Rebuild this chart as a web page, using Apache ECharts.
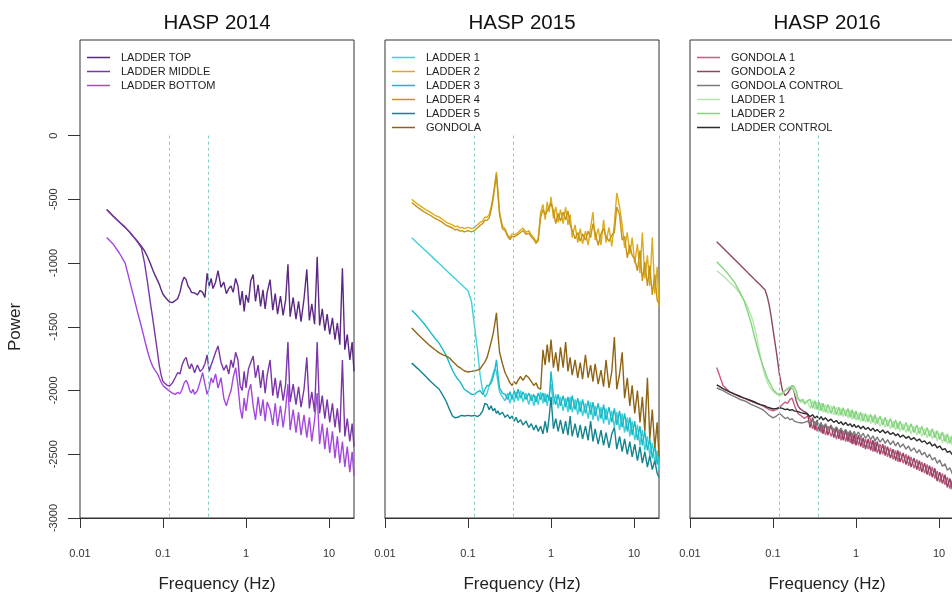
<!DOCTYPE html>
<html><head><meta charset="utf-8">
<script src="https://cdn.jsdelivr.net/npm/echarts@6/dist/echarts.min.js"></script>
<style>html,body{margin:0;padding:0;background:#fff}#c{width:952px;height:594px}</style>
</head><body><div id="c"></div>
<script>
// ---------- DATA ----------
const freq = [
 0.021,0.025,0.03,0.035,0.04,0.045,0.05,0.055,0.06,0.065,0.07,0.075,0.08,0.085,0.09,0.095,
 0.1,0.11,0.12,0.13,0.14,0.15,0.16,0.17,0.18,0.19,0.2,0.21,0.22,0.23,0.24,0.26,
 0.28,0.3,0.32,0.34,0.36,0.38,0.4,0.43,0.46,0.5,0.54,0.58,0.62,0.66,0.7,0.75,
 0.8,0.85,0.9,0.95,1.0,1.07,1.14,1.22,1.3,1.4,1.5,1.6,1.7,1.8,1.95,2.1,
 2.25,2.4,2.6,2.8,3.0,3.2,3.4,3.7,4.0,4.3,4.6,5.0,5.4,5.8,6.2,6.7,
 7.2,7.7,8.3,8.9,9.5,10.2,11.0,11.8,12.6,13.5,14.5,15.5,16.6,17.8,19.0,20.0];

// HASP 2014
const ladderTop14 = [
 -580,-630,-680,-720,-760,-800,-835,-870,-905,-950,-1000,-1050,-1095,-1130,-1165,-1210,
 -1245,-1280,-1305,-1310,-1295,-1280,-1230,-1150,-1110,-1130,-1180,-1200,-1230,-1245,-1235,-1250,
 -1215,-1230,-1270,-1080,-1180,-1120,-1200,-1150,-1060,-1190,-1150,-1240,-1200,-1180,-1230,-1120,
 -1180,-1330,-1220,-1380,-1250,-1310,-1140,-1090,-1300,-1170,-1340,-1210,-1360,-1230,-1130,-1370,
 -1240,-1400,-1260,-1410,-1290,-1010,-1420,-1270,-1440,-1300,-1460,-1280,-1050,-1450,-1320,-1480,
 -950,-1490,-1360,-1530,-1400,-1560,-1430,-1600,-1470,-1640,-1040,-1680,-1560,-1760,-1620,-1850];
const ladderMiddle14 = [
 -580,-630,-680,-720,-760,-800,-840,-880,-1000,-1150,-1300,-1430,-1560,-1680,-1800,-1880,
 -1930,-1955,-1965,-1940,-1900,-1860,-1870,-1800,-1760,-1740,-1800,-1830,-1790,-1820,-1860,-1800,
 -1850,-1830,-1790,-1720,-1850,-1800,-1760,-1700,-1650,-1780,-1840,-1800,-1870,-1760,-1820,-1700,
 -1760,-1960,-2000,-1850,-1980,-1830,-1780,-1730,-1900,-1800,-1980,-1840,-2020,-1880,-1760,-2040,
 -1900,-2060,-1920,-2080,-1950,-1620,-2090,-1950,-2110,-1970,-2130,-1990,-1740,-2140,-2010,-2170,
 -1620,-2180,-2040,-2220,-2070,-2250,-2100,-2290,-2140,-2330,-1760,-2360,-2220,-2400,-2260,-2440];
const ladderBottom14 = [
 -800,-850,-925,-1000,-1150,-1280,-1400,-1500,-1600,-1690,-1760,-1810,-1840,-1865,-1900,-1935,
 -1960,-1985,-2005,-2020,-2030,-2015,-2025,-1990,-1940,-1920,-1950,-2000,-2020,-1990,-2030,-2000,
 -1930,-1860,-1950,-2030,-1980,-1900,-1940,-1870,-1980,-1900,-2060,-2120,-2050,-2000,-1900,-1820,
 -1960,-2140,-2220,-2060,-2160,-2010,-1950,-2120,-2230,-2050,-2200,-2070,-2240,-2090,-2150,-2270,
 -2100,-2280,-2120,-2290,-2140,-1950,-2310,-2150,-2330,-2170,-2350,-2190,-2370,-2210,-2400,-2230,
 -2020,-2420,-2260,-2460,-2290,-2490,-2320,-2530,-2360,-2570,-2400,-2600,-2440,-2640,-2480,-2670];

// HASP 2015
const ladder1_15 = [
 -801,-848,-896,-937,-973,-1004,-1033,-1058,-1081,-1103,-1122,-1141,-1158,-1174,-1190,-1204,
 -1217,-1300,-1500,-1680,-1880,-2000,-2050,-2020,-1960,-1920,-1870,-1830,-1850,-1940,-2010,-2050,
 -2080,-2020,-2100,-2030,-2090,-2010,-2080,-2000,-2090,-2020,-2110,-2030,-2120,-2040,-2110,-2010,
 -2100,-2020,-2120,-2030,-1950,-2110,-2030,-2140,-2050,-2160,-2060,-2170,-2050,-2170,-2070,-2190,
 -2080,-2200,-2100,-2220,-2090,-2230,-2120,-2240,-2130,-2260,-2140,-2270,-2160,-2290,-2170,-2310,
 -2180,-2330,-2210,-2360,-2240,-2390,-2270,-2430,-2310,-2470,-2360,-2510,-2410,-2570,-2470,-2620];
const ladder2_15 = [
 -500,-540,-575,-600,-625,-640,-660,-680,-690,-700,-715,-710,-725,-720,-730,-725,
 -720,-730,-720,-700,-680,-670,-640,-640,-620,-560,-480,-380,-285,-450,-600,-710,
 -730,-780,-800,-770,-780,-770,-760,-740,-725,-760,-745,-780,-800,-830,-810,-600,
 -540,-660,-520,-600,-480,-650,-560,-680,-580,-690,-560,-700,-620,-800,-700,-840,
 -730,-850,-750,-860,-720,-600,-820,-730,-860,-660,-840,-720,-870,-690,-450,-560,
 -700,-880,-760,-930,-800,-1000,-850,-1080,-760,-1120,-940,-1180,-800,-1240,-1030,-1340];
const ladder3_15 = [
 -1370,-1420,-1480,-1540,-1590,-1630,-1680,-1730,-1790,-1840,-1880,-1910,-1930,-1960,-1990,-2000,
 -2010,-2030,-2030,-2010,-2000,-2030,-1990,-1960,-1960,-1940,-1900,-1840,-1760,-1880,-1980,-2020,
 -2030,-2070,-2010,-2070,-2000,-2060,-1990,-2060,-2010,-2070,-2020,-2080,-2030,-2090,-2020,-2070,
 -2020,-2090,-2030,-2080,-1850,-2040,-2110,-2030,-2120,-2040,-2130,-2050,-2150,-2040,-2150,-2060,
 -2170,-2070,-2180,-2080,-2190,-2090,-2200,-2100,-2220,-2110,-2230,-2130,-2250,-2140,-2270,-2160,
 -2290,-2180,-2320,-2210,-2350,-2240,-2390,-2280,-2430,-2320,-2470,-2380,-2530,-2430,-2580,-2520];
const ladder4_15 = [
 -525,-565,-600,-625,-650,-665,-685,-705,-715,-725,-740,-735,-750,-745,-755,-750,
 -745,-755,-745,-725,-705,-690,-665,-665,-645,-585,-505,-405,-305,-470,-620,-730,
 -745,-790,-815,-790,-795,-785,-775,-760,-745,-775,-765,-795,-815,-845,-825,-640,
 -580,-620,-590,-560,-530,-590,-690,-610,-670,-600,-660,-590,-700,-740,-810,-760,
 -830,-770,-820,-750,-800,-690,-760,-860,-770,-730,-790,-830,-780,-760,-560,-620,
 -820,-790,-960,-860,-940,-970,-1060,-900,-1140,-990,-1180,-1020,-1250,-1090,-1290,-1320];
const ladder5_15 = [
 -1785,-1830,-1880,-1925,-1960,-1990,-2040,-2090,-2150,-2200,-2215,-2210,-2200,-2195,-2200,-2190,
 -2195,-2200,-2195,-2205,-2190,-2160,-2100,-2110,-2150,-2120,-2160,-2140,-2180,-2160,-2190,-2170,
 -2210,-2190,-2220,-2200,-2240,-2210,-2250,-2230,-2270,-2240,-2290,-2260,-2310,-2270,-2320,-2280,
 -2340,-2240,-2330,-2210,-2050,-2300,-2220,-2320,-2230,-2340,-2240,-2350,-2200,-2360,-2260,-2370,
 -2270,-2380,-2280,-2390,-2240,-2400,-2300,-2420,-2310,-2430,-2330,-2450,-2340,-2290,-2460,-2360,
 -2480,-2380,-2500,-2400,-2520,-2420,-2550,-2440,-2570,-2480,-2600,-2510,-2620,-2550,-2650,-2680];
const gondola15 = [
 -1510,-1560,-1610,-1650,-1680,-1705,-1720,-1730,-1745,-1770,-1790,-1810,-1820,-1835,-1845,-1850,
 -1855,-1850,-1845,-1840,-1830,-1800,-1775,-1740,-1680,-1620,-1560,-1480,-1390,-1560,-1700,-1790,
 -1860,-1900,-1940,-1960,-1930,-1950,-1920,-1890,-1920,-1880,-1900,-1930,-1960,-1940,-1980,-1990,
 -1680,-1800,-1640,-1780,-1600,-1820,-1700,-1850,-1660,-1820,-1620,-1850,-1740,-1880,-1760,-1900,
 -1780,-1910,-1720,-1900,-1800,-1930,-1790,-1950,-1840,-1970,-1760,-1980,-1850,-1580,-1990,-1870,
 -1700,-2060,-1900,-2120,-1960,-2180,-2000,-2250,-2050,-2320,-1900,-2380,-2150,-2450,-2250,-2520];

// HASP 2016
const gondola1_16 = [
 -1820,-1960,-2010,-2030,-2050,-2060,-2075,-2085,-2095,-2105,-2110,-2120,-2130,-2140,-2150,-2155,
 -2160,-2150,-2130,-2110,-2090,-2100,-2070,-2060,-2110,-2150,-2180,-2170,-2200,-2190,-2220,-2200,
 -2220,-2300,-2240,-2320,-2260,-2330,-2270,-2350,-2280,-2360,-2300,-2380,-2310,-2390,-2320,-2400,
 -2330,-2410,-2340,-2420,-2350,-2430,-2360,-2450,-2380,-2460,-2390,-2480,-2400,-2490,-2420,-2500,
 -2430,-2520,-2450,-2540,-2470,-2560,-2480,-2570,-2500,-2590,-2520,-2610,-2540,-2630,-2560,-2650,
 -2580,-2670,-2600,-2690,-2630,-2720,-2650,-2740,-2680,-2770,-2700,-2800,-2730,-2820,-2760,-2850];
const gondola2_16 = [
 -832,-881,-933,-976,-1014,-1047,-1077,-1103,-1128,-1150,-1171,-1191,-1209,-1260,-1330,-1420,
 -1520,-1700,-1880,-2000,-2040,-2020,-1990,-1970,-2010,-2080,-2120,-2140,-2150,-2160,-2170,-2180,
 -2290,-2210,-2310,-2230,-2320,-2250,-2340,-2260,-2350,-2270,-2370,-2290,-2380,-2300,-2390,-2310,
 -2400,-2320,-2420,-2340,-2430,-2350,-2440,-2370,-2460,-2380,-2470,-2390,-2480,-2400,-2500,-2420,
 -2510,-2440,-2530,-2460,-2550,-2470,-2560,-2490,-2580,-2510,-2600,-2530,-2620,-2550,-2640,-2570,
 -2660,-2590,-2680,-2610,-2710,-2640,-2730,-2660,-2760,-2690,-2780,-2710,-2810,-2740,-2840,-2770];
const gondolaControl16 = [
 -1980,-2000,-2030,-2050,-2070,-2080,-2095,-2110,-2120,-2130,-2140,-2150,-2165,-2180,-2195,-2205,
 -2215,-2200,-2180,-2200,-2220,-2210,-2230,-2220,-2240,-2230,-2250,-2240,-2255,-2245,-2250,-2240,
 -2260,-2230,-2270,-2245,-2280,-2255,-2290,-2265,-2300,-2275,-2310,-2285,-2320,-2295,-2330,-2305,
 -2340,-2315,-2350,-2320,-2355,-2325,-2365,-2335,-2375,-2345,-2385,-2355,-2395,-2365,-2405,-2375,
 -2415,-2385,-2425,-2395,-2435,-2405,-2445,-2420,-2460,-2435,-2475,-2450,-2490,-2465,-2505,-2485,
 -2525,-2500,-2545,-2525,-2570,-2545,-2595,-2575,-2625,-2605,-2655,-2640,-2690,-2675,-2725,-2715];
const ladder1_16 = [
 -1060,-1100,-1150,-1190,-1240,-1290,-1350,-1420,-1500,-1610,-1720,-1810,-1880,-1930,-1965,-1990,
 -2005,-2030,-2040,-2030,-2000,-1980,-1970,-1975,-2000,-2040,-2070,-2060,-2095,-2075,-2110,-2085,
 -2140,-2080,-2150,-2090,-2160,-2100,-2170,-2110,-2180,-2120,-2190,-2130,-2200,-2140,-2205,-2150,
 -2215,-2155,-2225,-2165,-2235,-2175,-2245,-2180,-2250,-2190,-2260,-2200,-2270,-2210,-2280,-2220,
 -2290,-2230,-2300,-2240,-2310,-2250,-2320,-2260,-2330,-2270,-2340,-2280,-2350,-2290,-2360,-2300,
 -2370,-2310,-2380,-2320,-2395,-2335,-2410,-2345,-2420,-2360,-2435,-2370,-2450,-2385,-2465,-2400];
const ladder2_16 = [
 -990,-1040,-1100,-1160,-1230,-1300,-1390,-1480,-1580,-1670,-1740,-1800,-1850,-1900,-1930,-1960,
 -1990,-2020,-2030,-2020,-2000,-1990,-1980,-1960,-1970,-2000,-2060,-2080,-2090,-2070,-2100,-2080,
 -2070,-2140,-2080,-2150,-2090,-2160,-2100,-2170,-2110,-2180,-2120,-2190,-2130,-2195,-2135,-2200,
 -2140,-2210,-2150,-2220,-2160,-2230,-2170,-2240,-2180,-2245,-2185,-2250,-2190,-2260,-2200,-2270,
 -2210,-2280,-2220,-2290,-2230,-2300,-2240,-2310,-2250,-2320,-2260,-2330,-2270,-2340,-2280,-2350,
 -2290,-2360,-2300,-2370,-2315,-2385,-2325,-2400,-2340,-2415,-2350,-2425,-2365,-2440,-2375,-2455];
const ladderControl16 = [
 -1955,-1985,-2010,-2030,-2045,-2060,-2070,-2080,-2090,-2100,-2110,-2115,-2120,-2130,-2135,-2140,
 -2145,-2140,-2135,-2140,-2150,-2145,-2155,-2150,-2160,-2155,-2165,-2160,-2175,-2170,-2180,-2185,
 -2205,-2190,-2215,-2200,-2225,-2205,-2230,-2215,-2240,-2225,-2250,-2235,-2260,-2245,-2270,-2250,
 -2275,-2260,-2285,-2265,-2290,-2275,-2300,-2280,-2305,-2290,-2315,-2295,-2320,-2305,-2330,-2310,
 -2335,-2320,-2345,-2330,-2355,-2340,-2365,-2350,-2375,-2360,-2385,-2370,-2395,-2380,-2405,-2395,
 -2420,-2405,-2435,-2420,-2450,-2435,-2465,-2455,-2485,-2475,-2505,-2500,-2530,-2525,-2555,-2555];

const panelTitles = ['HASP 2014', 'HASP 2015', 'HASP 2016'];
const xTicks = [0.01, 0.1, 1, 10];
const yTicks = [-3000, -2500, -2000, -1500, -1000, -500, 0];
const refLines = [0.12, 0.35];

// ---------- CONFIG ----------
const FONT = 'Liberation Sans, Arial, Helvetica, sans-serif';
const panels = [
  { left: 80, series: [
    ['LADDER TOP', ladderTop14, '#5b2883'],
    ['LADDER MIDDLE', ladderMiddle14, '#7a36a6'],
    ['LADDER BOTTOM', ladderBottom14, '#a447dc']]},
  { left: 385, series: [
    ['LADDER 1', ladder1_15, '#3fd0dc'],
    ['LADDER 2', ladder2_15, '#dcac1c'],
    ['LADDER 3', ladder3_15, '#1bb9c6'],
    ['LADDER 4', ladder4_15, '#c59316'],
    ['LADDER 5', ladder5_15, '#13848e'],
    ['GONDOLA', gondola15, '#8e6414']]},
  { left: 690, series: [
    ['GONDOLA 1', gondola1_16, '#cc5a84'],
    ['GONDOLA 2', gondola2_16, '#8c4765'],
    ['GONDOLA CONTROL', gondolaControl16, '#7b7b7b'],
    ['LADDER 1', ladder1_16, '#b4e6ac'],
    ['LADDER 2', ladder2_16, '#84d47e'],
    ['LADDER CONTROL', ladderControl16, '#2c2c2c']]}
];
const W = 274, TOP = 40, H = 478;

const grid = [], xAxis = [], yAxis = [], series = [], legend = [], graphic = [];
panels.forEach((p, pi) => {
  grid.push({ left: p.left, top: TOP, width: W, height: H, show: true, outerBoundsMode: 'none',
    borderColor: '#333', borderWidth: 1, backgroundColor: 'transparent', containLabel: false });
  xAxis.push({ type: 'log', logBase: 10, gridIndex: pi, min: 0.01, max: 20,
    axisLine: { show: true, onZero: false, lineStyle: { color: '#333', width: 1 } },
    axisTick: { show: true, customValues: xTicks, length: 10, lineStyle: { color: '#333' } },
    axisLabel: { show: true, customValues: xTicks, margin: 30, fontSize: 11, color: '#333', fontFamily: FONT,
      formatter: v => String(+(+v).toPrecision(3)) },
    splitLine: { show: false }, minorTick: { show: false },
    name: 'Frequency (Hz)', nameLocation: 'middle', nameGap: 58,
    nameTextStyle: { fontSize: 17, color: '#222', fontFamily: FONT } });
  yAxis.push({ type: 'value', gridIndex: pi, min: -3000, max: 750, show: pi === 0,
    axisLine: { show: false },
    axisTick: { show: true, customValues: yTicks, length: 12, lineStyle: { color: '#333' } },
    axisLabel: { show: true, customValues: yTicks, rotate: 90, margin: 21, fontSize: 11, color: '#333', fontFamily: FONT,
      formatter: v => String(v) },
    splitLine: { show: false } });
  const names = [];
  p.series.forEach(([nm, vals, col], si) => {
    const key = pi + ':' + nm;
    names.push(key);
    const s = { type: 'line', name: key, xAxisIndex: pi, yAxisIndex: pi,
      data: freq.map((f, i) => [f, vals[i]]),
      symbol: 'none', showSymbol: false, animation: false,
      lineStyle: { width: 1.4, color: col }, itemStyle: { color: col } };
    if (si === 0) {
      s.markLine = { silent: true, symbol: ['none', 'none'], animation: false,
        label: { show: false },
        lineStyle: { color: '#86cfc4', type: [3, 3], width: 1 },
        data: refLines.map(f => [{ coord: [f, 0] }, { coord: [f, -3000] }]) };
    }
    series.push(s);
  });
  legend.push({ data: names, orient: 'vertical', left: p.left + 2, top: 47,
    icon: 'rect', itemWidth: 23, itemHeight: 1.5, itemGap: 3, selectedMode: false,
    formatter: n => n.slice(n.indexOf(':') + 1),
    textStyle: { fontSize: 11, color: '#222', fontFamily: FONT, lineHeight: 11, padding: [0, 0, 0, 6] } });
  graphic.push({ type: 'text', x: p.left + W / 2, y: 23,
    style: { text: panelTitles[pi], fontSize: 20.5, fontFamily: FONT, fill: '#111', align: 'center', verticalAlign: 'middle' } });
});
graphic.push({ type: 'text', x: 15, y: 327, rotation: Math.PI / 2,
  style: { text: 'Power', fontSize: 17, fontFamily: FONT, fill: '#222', align: 'center', verticalAlign: 'middle' } });

const chart = echarts.init(document.getElementById('c'), null, { renderer: 'canvas' });
chart.setOption({ backgroundColor: '#fff', animation: false, textStyle: { fontFamily: FONT },
  grid, xAxis, yAxis, series, legend, graphic });
</script>
</body></html>
